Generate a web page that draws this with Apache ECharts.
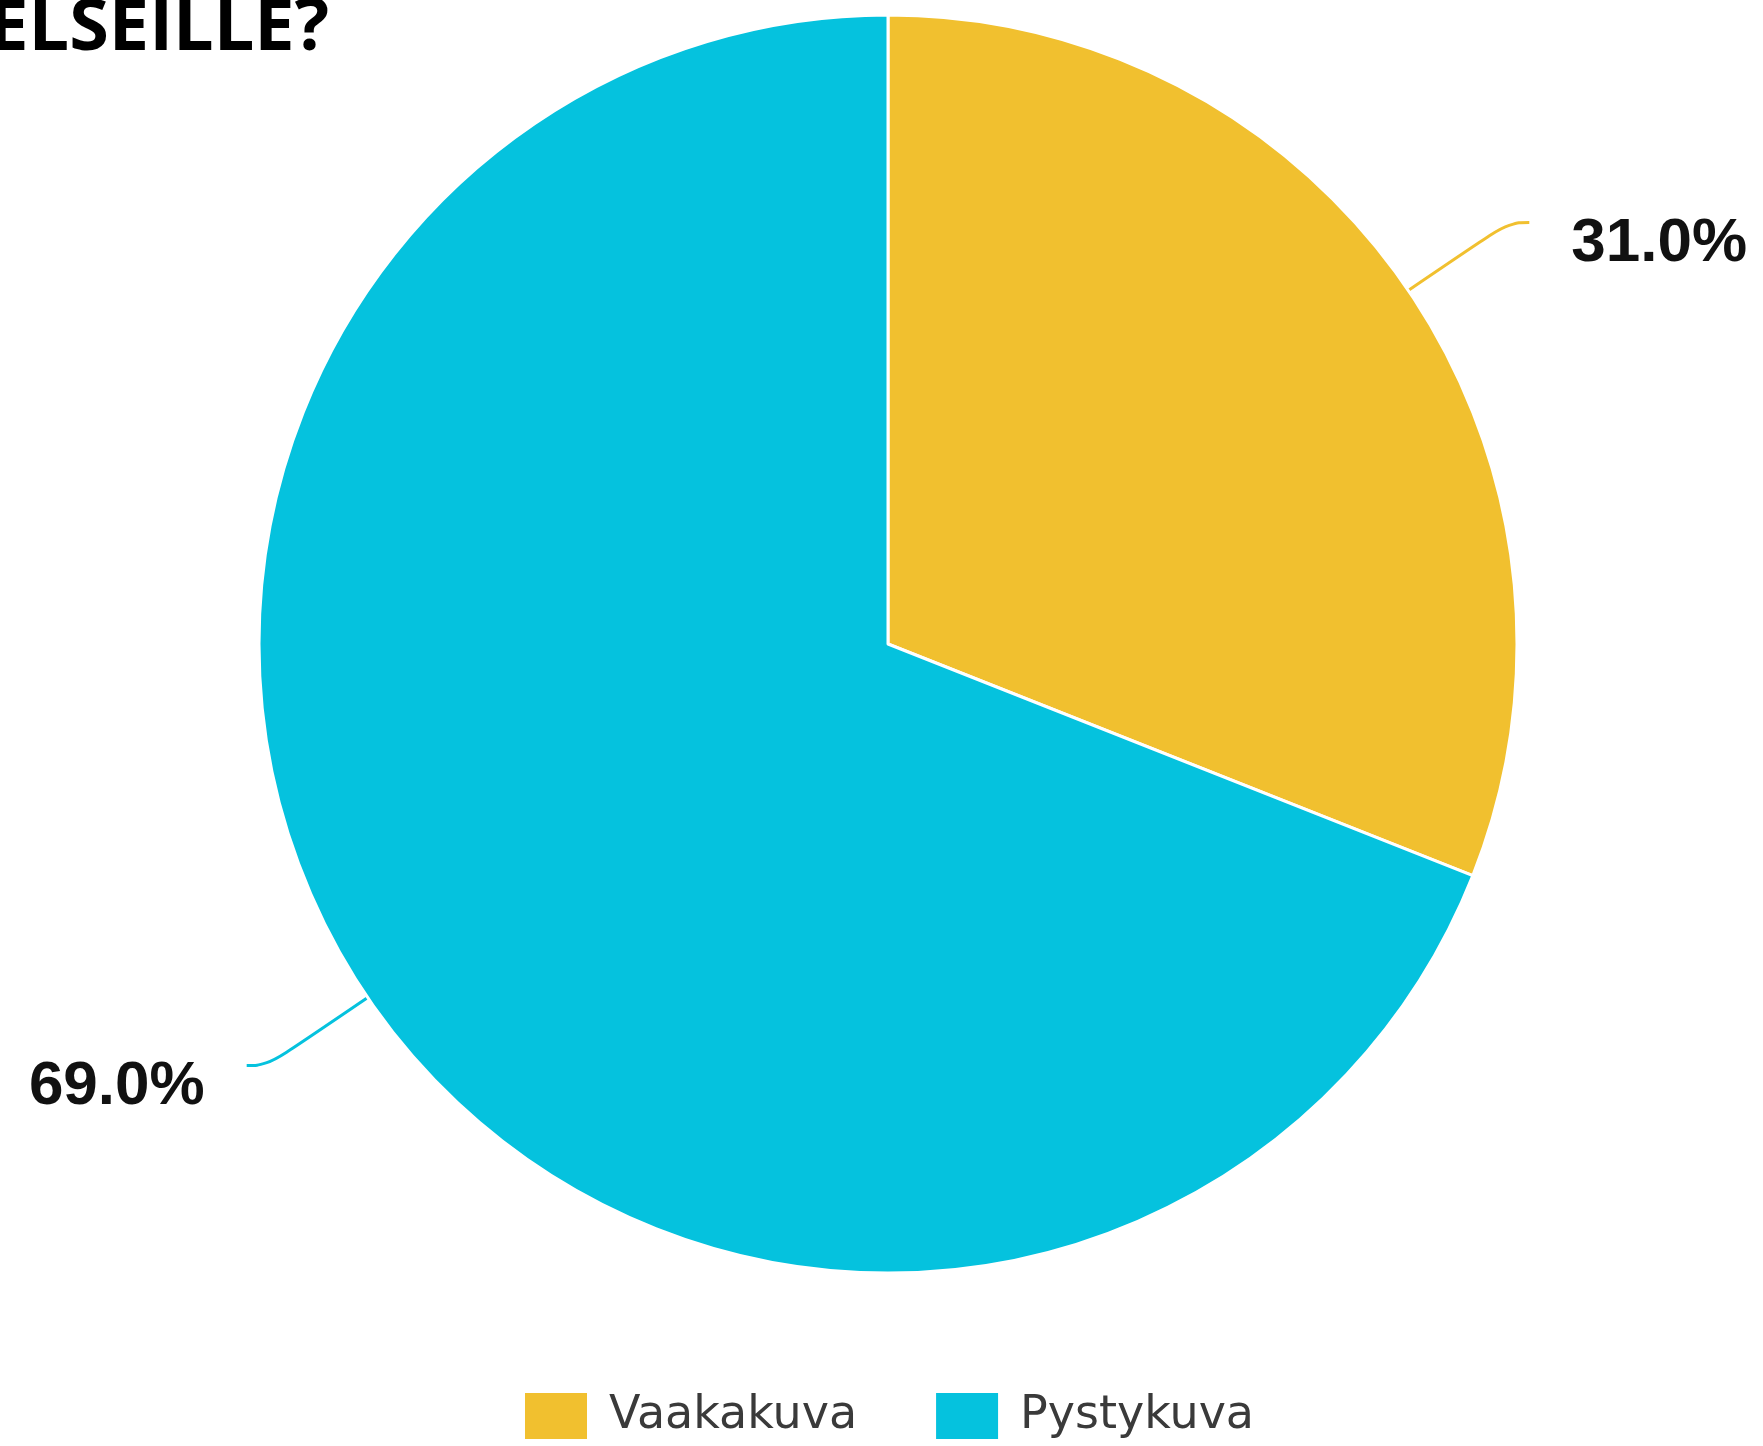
<!DOCTYPE html>
<html>
<head>
<meta charset="utf-8">
<script src="https://cdn.jsdelivr.net/npm/echarts@6/dist/echarts.min.js"></script>
<style>
  html, body { margin: 0; padding: 0; background: #fff; }
  #main { width: 1763px; height: 1446px; }
</style>
</head>
<body>
<div id="main"></div>
<script>
// data
var categories = ['Vaakakuva', 'Pystykuva'];
var values = [31.0, 69.0];
var colors = ['#F1C02F', '#05C2DE'];
var titleTail = 'ELSEILLE?';

var chart = echarts.init(document.getElementById('main'), null, { renderer: 'canvas' });

var pieData = categories.map(function (name, i) {
  return { name: name, value: values[i], itemStyle: { color: colors[i] } };
});

var option = {
  backgroundColor: '#fff',
  animation: false,
  // rest of the title is cut off above the picture
  graphic: [{
    type: 'text',
    style: {
      text: titleTail,
      x: 329,
      y: 29,
      align: 'right',
      verticalAlign: 'middle',
      fontFamily: 'Open Sans',
      fontWeight: 'bold',
      fontSize: 72,
      fill: '#000'
    }
  }],
  legend: {
    data: categories,
    top: 1391,
    left: 523,
    padding: 0,
    itemWidth: 64,
    itemHeight: 48,
    itemGap: 77,
    icon: 'rect',
    textStyle: {
      fontFamily: 'DejaVu Sans',
      fontSize: 46,
      lineHeight: 48,
      color: '#3a3a3a',
      padding: [0, 0, -12, 16]
    }
  },
  series: [{
    type: 'pie',
    center: [888, 644],
    radius: 629,
    startAngle: 90,
    clockwise: true,
    avoidLabelOverlap: false,
    data: pieData,
    itemStyle: { borderColor: '#fff', borderWidth: 3 },
    label: {
      show: true,
      position: 'outside',
      distanceToLabelLine: 42,
      formatter: function (p) { return '{s| }\n{a|' + p.value.toFixed(1) + '%}'; },
      rich: {
        s: { fontSize: 1, lineHeight: 43 },
        a: {
          fontFamily: 'Liberation Sans',
          fontWeight: 'bold',
          fontSize: 62,
          lineHeight: 70,
          color: '#111'
        }
      }
    },
    labelLine: {
      show: true,
      length: 121,
      length2: 21,
      smooth: 0.5,
      lineStyle: { width: 3 }
    },
    emphasis: { disabled: true }
  }]
};

chart.setOption(option);
</script>
</body>
</html>
